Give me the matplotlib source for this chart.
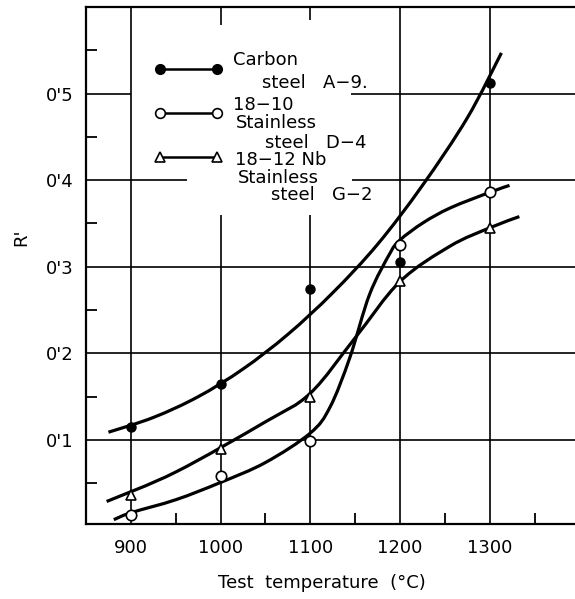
import numpy as np
import matplotlib
matplotlib.use("Agg")
import matplotlib.pyplot as plt
from matplotlib.path import Path
from matplotlib.patches import PathPatch
from matplotlib.lines import Line2D

plt.rcParams['font.family'] = ['DejaVu Sans']

# Measured values of R' at each test temperature
temps = [900, 1000, 1100, 1200, 1300]
carbon_A9 = [0.115, 0.165, 0.274, 0.306, 0.512]
ss_18_10_D4 = [0.013, 0.058, 0.099, 0.325, 0.386]
ss_18_12Nb_G2 = [0.037, 0.090, 0.150, 0.284, 0.345]

# Hand-faired trend curves through the data (temperature, R')
carbon_curve_t = [875, 925, 975, 1025, 1075, 1125, 1175, 1225, 1275, 1313]
carbon_curve_r = [0.109, 0.126, 0.150, 0.182, 0.222, 0.270, 0.326, 0.394, 0.472, 0.547]

ss1810_curve_t = [881, 900, 950, 1000, 1050, 1100, 1122, 1144, 1166, 1189, 1200, 1226, 1256, 1300, 1322]
ss1810_curve_r = [0.008, 0.016, 0.031, 0.051, 0.074, 0.108, 0.138, 0.195, 0.268, 0.316, 0.331, 0.351, 0.368, 0.386, 0.394]

ss1812_curve_t = [873, 950, 1050, 1100, 1150, 1200, 1256, 1300, 1333]
ss1812_curve_r = [0.029, 0.063, 0.121, 0.154, 0.218, 0.283, 0.324, 0.345, 0.358]

x_ticks = [900, 1000, 1100, 1200, 1300]
x_minor = [950, 1050, 1150, 1250, 1350]
y_ticks = [0.1, 0.2, 0.3, 0.4, 0.5]
y_tick_labels = ["0'1", "0'2", "0'3", "0'4", "0'5"]
y_minor = [0.05, 0.15, 0.25, 0.35, 0.45, 0.55]

W, H = 575, 599
fig = plt.figure(figsize=(W / 100, H / 100), dpi=100)
ax = fig.add_axes([86 / W, (H - 524) / H, (W - 86) / W, (524 - 7) / H])
ax.set_xlim(850, 1395)
ax.set_ylim(0.003, 0.6)

for s in ['left', 'bottom', 'top']:
    ax.spines[s].set_linewidth(1.6)
ax.spines['right'].set_visible(False)

ax.set_xticks(x_ticks)
ax.set_xticklabels([str(t) for t in x_ticks])
ax.set_xticks(x_minor, minor=True)
ax.set_yticks(y_ticks)
ax.set_yticklabels(y_tick_labels)
ax.set_yticks(y_minor, minor=True)
ax.tick_params(axis='both', which='major', length=0, labelsize=13)
ax.tick_params(axis='x', which='major', pad=11)
ax.tick_params(axis='y', which='major', pad=9)
ax.tick_params(axis='both', which='minor', direction='in', length=8, width=1.3)
ax.tick_params(top=False, right=False, which='both')

# Grid, broken where the key sits
gl = dict(color='black', lw=1.2, zorder=1)
ax.vlines(900, 0.003, 0.6, **gl)
ax.vlines(1000, 0.003, 0.36, **gl)
ax.vlines(1000, 0.579, 0.6, **gl)
ax.vlines(1100, 0.003, 0.36, **gl)
ax.vlines(1100, 0.585, 0.6, **gl)
ax.vlines(1200, 0.003, 0.6, **gl)
ax.vlines(1300, 0.003, 0.6, **gl)
for yv in [0.1, 0.2, 0.3]:
    ax.hlines(yv, 850, 1395, **gl)
ax.hlines(0.4, 850, 963, **gl)
ax.hlines(0.4, 1146, 1395, **gl)
ax.hlines(0.5, 850, 900, **gl)
ax.hlines(0.5, 1145, 1395, **gl)


def faired_path(ts, rs):
    pts = np.column_stack([ts, rs]).astype(float)
    n = len(pts)
    verts = [pts[0]]
    codes = [Path.MOVETO]
    for i in range(n - 1):
        p0 = pts[i - 1] if i > 0 else pts[i]
        p1 = pts[i]
        p2 = pts[i + 1]
        p3 = pts[i + 2] if i + 2 < n else pts[i + 1]
        verts += [p1 + (p2 - p0) / 6.0, p2 - (p3 - p1) / 6.0, p2]
        codes += [Path.CURVE4] * 3
    return Path(verts, codes)


for ts, rs in [(carbon_curve_t, carbon_curve_r),
               (ss1810_curve_t, ss1810_curve_r),
               (ss1812_curve_t, ss1812_curve_r)]:
    ax.add_patch(PathPatch(faired_path(ts, rs), fill=False, lw=2.3,
                           edgecolor='black', capstyle='butt', zorder=2))

ax.plot(temps, carbon_A9, 'o', color='black', ms=6.5, zorder=3)
ax.plot(temps, ss_18_10_D4, 'o', mfc='white', mec='black', mew=1.2, ms=7.5, zorder=3)
ax.plot(temps, ss_18_12Nb_G2, '^', mfc='white', mec='black', mew=1.2, ms=7.5, zorder=3)

ax.set_xlabel('Test  temperature  (°C)', fontsize=13)
ax.xaxis.set_label_coords((322 - 86) / (W - 86), (524 - 583) / (524 - 7))
ax.xaxis.label.set_va('center')
ax.set_ylabel("R'", fontsize=13)
ax.yaxis.set_label_coords((21 - 86) / (W - 86), (524 - 237) / (524 - 7))
ax.yaxis.label.set_va('center')


def fx(px):
    return px / W


def fy(py):
    return 1 - py / H


# Key
key = [
    (69, dict(marker='o', mfc='black', mec='black', ms=7)),
    (113, dict(marker='o', mfc='white', mec='black', mew=1.2, ms=7)),
    (157, dict(marker='^', mfc='white', mec='black', mew=1.2, ms=7)),
]
for py, mk in key:
    fig.add_artist(Line2D([fx(160), fx(217)], [fy(py), fy(py)], color='black',
                          lw=1.8, transform=fig.transFigure, **mk))

key_text = [
    (233, 60, 'Carbon'),
    (262, 83, 'steel   A−9.'),
    (233, 105, '18−10'),
    (236, 123, 'Stainless'),
    (265, 143, 'steel   D−4'),
    (235, 160, '18−12 Nb'),
    (238, 178, 'Stainless'),
    (271, 195, 'steel   G−2'),
]
for px, py, s in key_text:
    fig.text(fx(px), fy(py), s, fontsize=13, ha='left', va='center')

fig.savefig('out.png', dpi=100)
